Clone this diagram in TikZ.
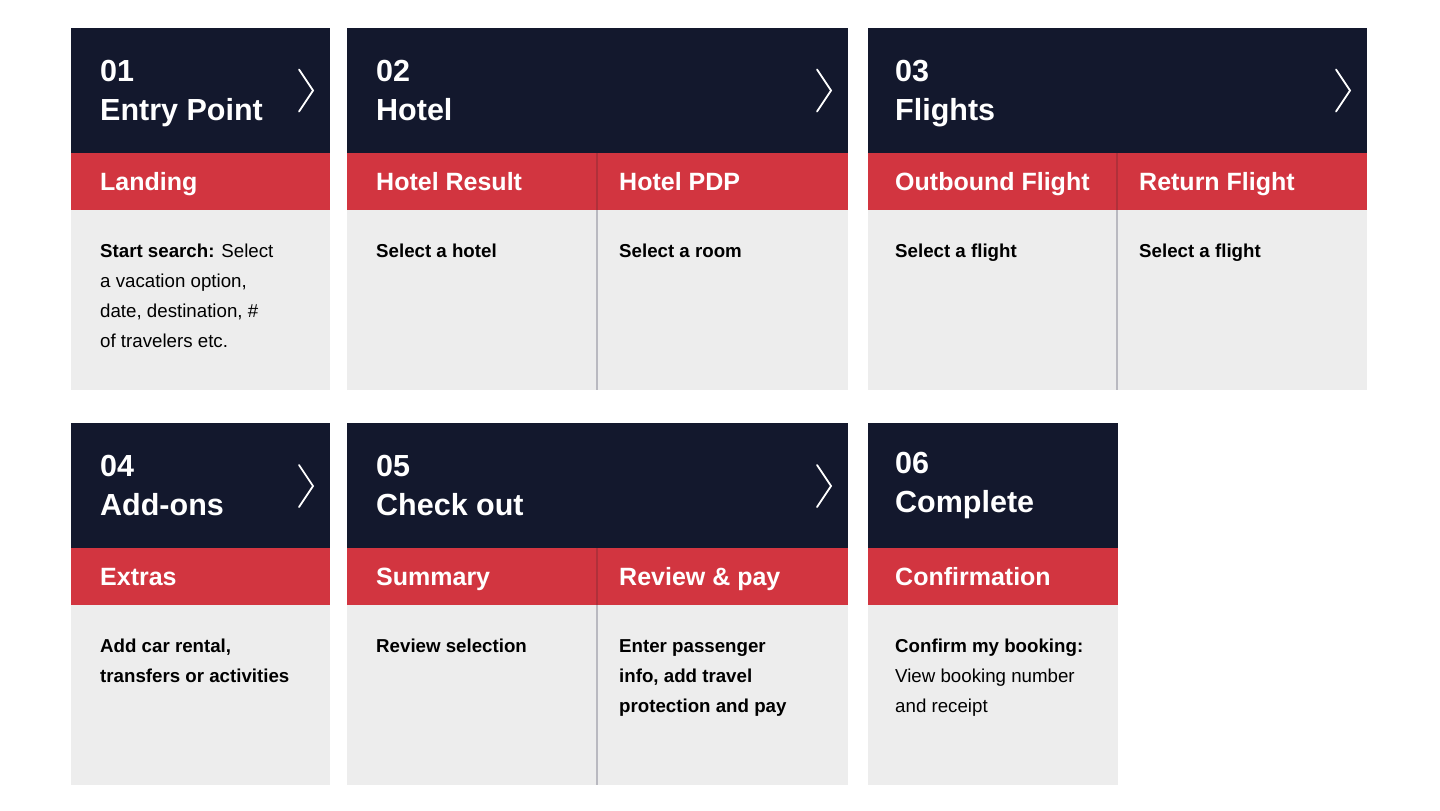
\documentclass[tikz,border=0pt]{standalone}
\usepackage{fontspec}
\setmainfont{Liberation Sans}
\definecolor{navy}{HTML}{13182D}
\definecolor{brand}{HTML}{D23540}
\definecolor{panel}{HTML}{EDEDED}
\definecolor{divred}{HTML}{B0303A}
\definecolor{divgray}{HTML}{B9B9C0}
\begin{document}
\begin{tikzpicture}[x=1pt,y=-1pt,
  head/.style={anchor=base west, inner sep=0pt, text=white, font=\fontsize{30.5}{36}\selectfont\bfseries},
  band/.style={anchor=base west, inner sep=0pt, text=white, font=\fontsize{25}{30}\selectfont\bfseries},
  body/.style={anchor=base west, inner sep=0pt, text=black, font=\fontsize{18.7}{30}\selectfont},
  bodyb/.style={anchor=base west, inner sep=0pt, text=black, font=\fontsize{18.7}{30}\selectfont\bfseries},
  chev/.style={draw=white, line width=1.8pt, line cap=round, line join=miter},
  divr/.style={draw=divred, line width=1.6pt},
  divg/.style={draw=divgray, line width=1.6pt}]
\useasboundingbox (0,0) rectangle (1440,811);
\fill[white] (0,0) rectangle (1440,811);

% ---------- backgrounds row 1
\fill[navy] (71,28) rectangle (330,153);
\fill[brand] (71,153) rectangle (330,210);
\fill[panel] (71,210) rectangle (330,390);
\fill[navy] (347,28) rectangle (848,153);
\fill[brand] (347,153) rectangle (848,210);
\fill[panel] (347,210) rectangle (848,390);
\fill[navy] (868,28) rectangle (1367,153);
\fill[brand] (868,153) rectangle (1367,210);
\fill[panel] (868,210) rectangle (1367,390);
% ---------- backgrounds row 2
\fill[navy] (71,423) rectangle (330,548);
\fill[brand] (71,548) rectangle (330,605);
\fill[panel] (71,605) rectangle (330,785);
\fill[navy] (347,423) rectangle (848,548);
\fill[brand] (347,548) rectangle (848,605);
\fill[panel] (347,605) rectangle (848,785);
\fill[navy] (868,423) rectangle (1118,548);
\fill[brand] (868,548) rectangle (1118,605);
\fill[panel] (868,605) rectangle (1118,785);

% ---------- dividers
\draw[divr] (597,153) -- (597,210);
\draw[divg] (597,210) -- (597,390);
\draw[divr] (1117,153) -- (1117,210);
\draw[divg] (1117,210) -- (1117,390);
\draw[divr] (597,548) -- (597,605);
\draw[divg] (597,605) -- (597,785);

% ---------- chevrons
\draw[chev] (299,69.5) -- (313,90.5) -- (299,111.5);
\draw[chev] (817,69.5) -- (831,90.5) -- (817,111.5);
\draw[chev] (1336,69.5) -- (1350,90.5) -- (1336,111.5);
\draw[chev] (299,465) -- (313,486) -- (299,507);
\draw[chev] (817,465) -- (831,486) -- (817,507);

% ---------- card 01
\node[head] (n01) at (100,81) {01};
\node[head] (t01) at (100,120) {Entry Point};
\node[band] (landing) at (100,190) {Landing};
\node[body] (l1a) at (100,257) {{\bfseries Start search:} Select};
\node[body] (l1b) at (100,287) {a vacation option,};
\node[body] (l1c) at (100,317) {date, destination, \#};
\node[body] (l1d) at (100,347) {of travelers etc.};

% ---------- card 02
\node[head] (n02) at (376,81) {02};
\node[head] (t02) at (376,120) {Hotel};
\node[band] (hres) at (376,190) {Hotel Result};
\node[band] (hpdp) at (619,190) {Hotel PDP};
\node[bodyb] (l2a) at (376,257) {Select a hotel};
\node[bodyb] (l2b) at (619,257) {Select a room};

% ---------- card 03
\node[head] (n03) at (895,81) {03};
\node[head] (t03) at (895,120) {Flights};
\node[band] (outb) at (895,190) {Outbound Flight};
\node[band] (retf) at (1139,190) {Return Flight};
\node[bodyb] (l3a) at (895,257) {Select a flight};
\node[bodyb] (l3b) at (1139,257) {Select a flight};

% ---------- card 04
\node[head] (n04) at (100,476) {04};
\node[head] (t04) at (100,515) {Add-ons};
\node[band] (extras) at (100,585) {Extras};
\node[bodyb] (l4a) at (100,652) {Add car rental,};
\node[bodyb] (l4b) at (100,682) {transfers or activities};

% ---------- card 05
\node[head] (n05) at (376,476) {05};
\node[head] (t05) at (376,515) {Check out};
\node[band] (summ) at (376,585) {Summary};
\node[band] (revp) at (619,585) {Review \& pay};
\node[bodyb] (l5a) at (376,652) {Review selection};
\node[bodyb] (l5b) at (619,652) {Enter passenger};
\node[bodyb] (l5c) at (619,682) {info, add travel};
\node[bodyb] (l5d) at (619,712) {protection and pay};

% ---------- card 06
\node[head] (n06) at (895,473) {06};
\node[head] (t06) at (895,512) {Complete};
\node[band] (conf) at (895,585) {Confirmation};
\node[bodyb] (l6a) at (895,652) {Confirm my booking:};
\node[body] (l6b) at (895,682) {View booking number};
\node[body] (l6c) at (895,712) {and receipt};
\end{tikzpicture}
\end{document}
